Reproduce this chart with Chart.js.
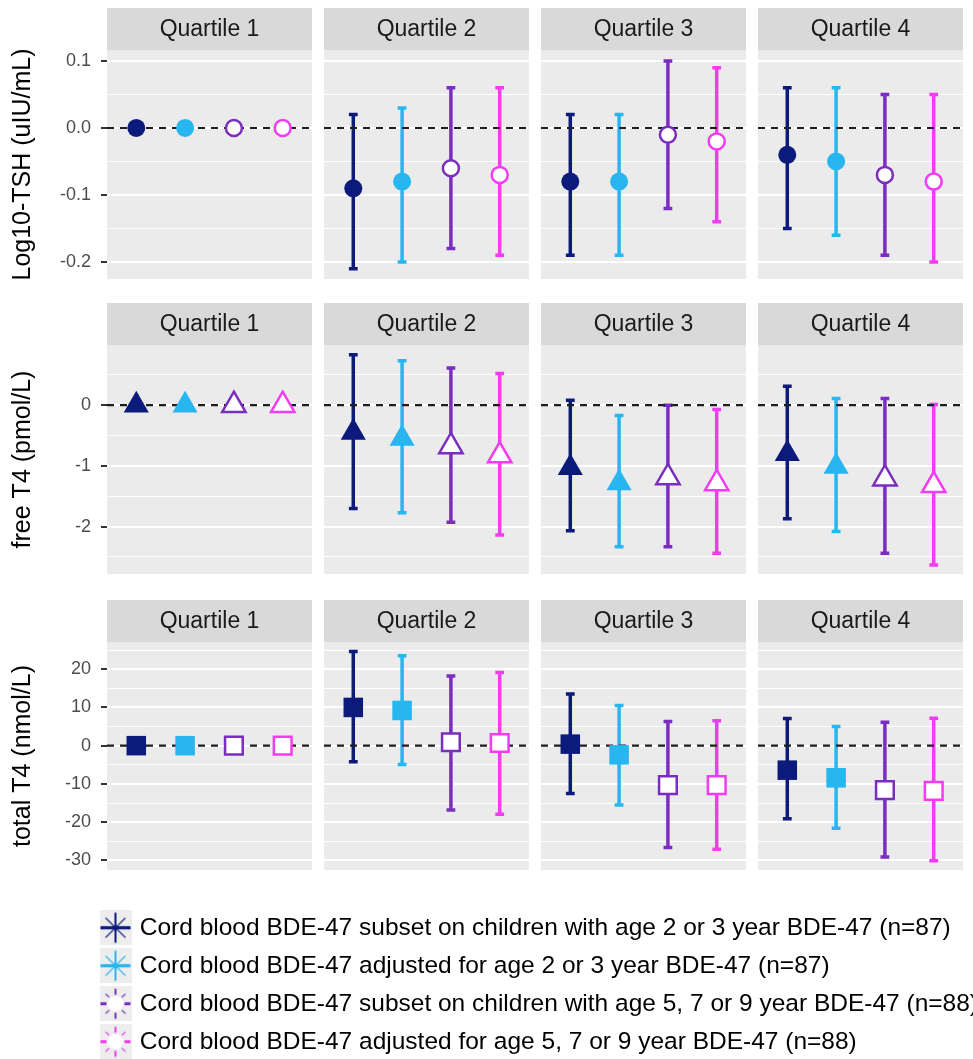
<!DOCTYPE html>
<html>
<head>
<meta charset="utf-8">
<script src="https://cdn.jsdelivr.net/npm/chart.js@4.4.1/dist/chart.umd.min.js"></script>
<style>
  body { margin: 0; background: #fff; overflow: hidden; }
  #wrap { position: relative; width: 973px; height: 1059px; overflow: hidden; }
  #wrap canvas { position: absolute; }
</style>
</head>
<body>
<div id="wrap"></div>
<script>
const quartiles = ['Quartile 1', 'Quartile 2', 'Quartile 3', 'Quartile 4'];
const seriesNames = [
  'Cord blood BDE-47 subset on children with age 2 or 3 year BDE-47 (n=87)',
  'Cord blood BDE-47 adjusted for age 2 or 3 year BDE-47 (n=87)',
  'Cord blood BDE-47 subset on children with age 5, 7 or 9 year BDE-47 (n=88)',
  'Cord blood BDE-47 adjusted for age 5, 7 or 9 year BDE-47 (n=88)'
];
const seriesColors = ['#0c1a7c', '#27b6ef', '#7a2dbf', '#f23cf2'];
const seriesOpen = [false, false, true, true];

// each array: one row per series, one column per quartile (Q1 is the reference)
const tshEst = [
  [0, -0.09, -0.08, -0.04],
  [0, -0.08, -0.08, -0.05],
  [0, -0.06, -0.01, -0.07],
  [0, -0.07, -0.02, -0.08]
];
const tshLow = [
  [null, -0.21, -0.19, -0.15],
  [null, -0.20, -0.19, -0.16],
  [null, -0.18, -0.12, -0.19],
  [null, -0.19, -0.14, -0.20]
];
const tshHigh = [
  [null, 0.02, 0.02, 0.06],
  [null, 0.03, 0.02, 0.06],
  [null, 0.06, 0.10, 0.05],
  [null, 0.06, 0.09, 0.05]
];

const ft4Est = [
  [0, -0.45, -1.03, -0.80],
  [0, -0.55, -1.28, -1.01],
  [0, -0.68, -1.19, -1.21],
  [0, -0.83, -1.29, -1.32]
];
const ft4Low = [
  [null, -1.70, -2.07, -1.87],
  [null, -1.77, -2.33, -2.08],
  [null, -1.93, -2.33, -2.44],
  [null, -2.14, -2.44, -2.63]
];
const ft4High = [
  [null, 0.83, 0.08, 0.31],
  [null, 0.73, -0.17, 0.11],
  [null, 0.61, 0.00, 0.11],
  [null, 0.52, -0.07, 0.01]
];

const tt4Est = [
  [0, 10.0, 0.4, -6.4],
  [0, 9.2, -2.4, -8.4],
  [0, 0.9, -10.3, -11.6],
  [0, 0.7, -10.3, -11.8]
];
const tt4Low = [
  [null, -4.2, -12.5, -19.1],
  [null, -4.9, -15.5, -21.6],
  [null, -16.8, -26.6, -29.1],
  [null, -17.9, -27.1, -30.1]
];
const tt4High = [
  [null, 24.6, 13.5, 7.1],
  [null, 23.5, 10.5, 5.0],
  [null, 18.2, 6.3, 6.1],
  [null, 19.1, 6.5, 7.2]
];

const tshTicks = [0.1, 0.0, -0.1, -0.2];
const tshTickLabels = ['0.1', '0.0', '-0.1', '-0.2'];
const tshMinor = [0.05, -0.05, -0.15];
const ft4Ticks = [0, -1, -2];
const ft4TickLabels = ['0', '-1', '-2'];
const ft4Minor = [0.5, -0.5, -1.5, -2.5];
const tt4Ticks = [20, 10, 0, -10, -20, -30];
const tt4TickLabels = ['20', '10', '0', '-10', '-20', '-30'];
const tt4Minor = [25, 15, 5, -5, -15, -25];

const rows = [
  { title: 'Log10-TSH (uIU/mL)', est: tshEst, low: tshLow, high: tshHigh, min: -0.2254, max: 0.1164,
    ticks: tshTicks, labels: tshTickLabels, minor: tshMinor, shape: 'circle', r: 9, rOpen: 8 },
  { title: 'free T4 (pmol/L)', est: ft4Est, low: ft4Low, high: ft4High, min: -2.78, max: 0.99,
    ticks: ft4Ticks, labels: ft4TickLabels, minor: ft4Minor, shape: 'triangle', r: 14.5, rOpen: 13.5 },
  { title: 'total T4 (nmol/L)', est: tt4Est, low: tt4Low, high: tt4High, min: -32.5, max: 27.1,
    ticks: tt4Ticks, labels: tt4TickLabels, minor: tt4Minor, shape: 'rect', r: 13.8, rOpen: 12.5 }
];

Chart.defaults.font.family = "'Liberation Sans', Arial, sans-serif";
Chart.defaults.animation = false;

const panelLeft = [107, 324, 541, 758];
const panelW = 205;
const rowTop = [8, 303, 600];
const panelH = [229, 229, 228];
const stripH = 42;

// grey panel + strip backgrounds
const panelBg = {
  id: 'panelBg',
  beforeDraw(chart) {
    const {ctx, chartArea: a} = chart;
    ctx.save();
    ctx.fillStyle = '#ebebeb';
    ctx.fillRect(a.left, a.top, a.right - a.left, a.bottom - a.top);
    const t = chart.titleBlock;
    if (t && t.options.display) {
      ctx.fillStyle = '#d9d9d9';
      ctx.fillRect(t.left, t.top, t.width, t.height);
    }
    ctx.restore();
  }
};

// error bars, then the dashed reference line at 0 (points are drawn on top)
const errorBars = {
  id: 'errorBars',
  beforeDatasetsDraw(chart, args, opts) {
    const {ctx, chartArea: a} = chart;
    const x = chart.scales.x, y = chart.scales.y;
    ctx.save();
    ctx.lineWidth = 3.5;
    opts.low.forEach((lo, s) => {
      const hi = opts.high[s];
      if (lo == null || hi == null) return;
      const px = x.getPixelForValue(s + 1);
      const half = x.getPixelForValue(s + 1 + opts.cap / 2) - px;
      const yl = y.getPixelForValue(lo);
      const yh = y.getPixelForValue(hi);
      ctx.strokeStyle = opts.colors[s];
      ctx.beginPath();
      ctx.moveTo(px, yl); ctx.lineTo(px, yh);
      ctx.moveTo(px - half, yl); ctx.lineTo(px + half, yl);
      ctx.moveTo(px - half, yh); ctx.lineTo(px + half, yh);
      ctx.stroke();
    });
    const y0 = y.getPixelForValue(0);
    ctx.setLineDash([7, 6]);
    ctx.strokeStyle = '#1e1e1e';
    ctx.lineWidth = 2.2;
    ctx.beginPath();
    ctx.moveTo(a.left, y0);
    ctx.lineTo(a.right, y0);
    ctx.stroke();
    ctx.restore();
  }
};

const wrap = document.getElementById('wrap');

function addCanvas(left, top, w, h) {
  const c = document.createElement('canvas');
  c.width = w; c.height = h;
  c.style.left = left + 'px';
  c.style.top = top + 'px';
  c.style.width = w + 'px';
  c.style.height = h + 'px';
  wrap.appendChild(c);
  return c;
}

function makePanel(ri, q) {
  const row = rows[ri];
  const first = q === 0;
  const left = first ? 0 : panelLeft[q];
  const w = first ? panelLeft[0] + panelW : panelW;
  const canvas = addCanvas(left, rowTop[ri], w, stripH + panelH[ri]);
  const isMajor = v => row.ticks.some(t => Math.abs(t - v) < 1e-9);

  const datasets = seriesNames.map((name, s) => ({
    label: name,
    data: [{x: s + 1, y: row.est[s][q]}],
    pointStyle: row.shape,
    pointRadius: seriesOpen[s] ? row.rOpen : row.r,
    pointBackgroundColor: seriesOpen[s] ? '#ffffff' : seriesColors[s],
    pointBorderColor: seriesColors[s],
    pointBorderWidth: seriesOpen[s] ? 2.5 : 0,
    showLine: false
  }));

  new Chart(canvas, {
    type: 'scatter',
    data: {datasets},
    options: {
      responsive: false,
      events: [],
      layout: {padding: 0, autoPadding: false},
      scales: {
        x: {type: 'linear', min: 0.4, max: 4.6, display: false},
        y: {
          min: row.min, max: row.max,
          afterBuildTicks: s => { s.ticks = row.ticks.concat(row.minor).map(v => ({value: v})); },
          afterFit: s => {
            s.width = first ? panelLeft[0] : 0;
            s.paddingTop = 0;
            s.paddingBottom = 0;
          },
          border: {display: false},
          grid: {
            color: '#ffffff',
            lineWidth: c => (c.tick && isMajor(c.tick.value)) ? 2 : 1,
            drawTicks: first,
            tickLength: 6,
            tickColor: c => (c.tick && isMajor(c.tick.value)) ? '#333333' : 'rgba(0,0,0,0)'
          },
          ticks: {
            display: first,
            autoSkip: false,
            padding: 10,
            color: '#4d4d4d',
            font: {size: 18},
            callback: v => {
              const i = row.ticks.findIndex(t => Math.abs(t - v) < 1e-9);
              return i < 0 ? '' : row.labels[i];
            }
          },
          title: {
            display: first,
            text: row.title,
            color: '#000000',
            font: {size: 25, lineHeight: 1},
            padding: {top: 11, bottom: 0}
          }
        }
      },
      plugins: {
        legend: {display: false},
        tooltip: {enabled: false},
        title: {
          display: true,
          text: quartiles[q],
          fullSize: false,
          color: '#1a1a1a',
          font: {size: 23, weight: 'normal', lineHeight: 1},
          padding: {top: 10, bottom: 9}
        },
        errorBars: {
          low: row.low.map(a => a[q]),
          high: row.high.map(a => a[q]),
          colors: seriesColors,
          cap: 0.18
        }
      }
    },
    plugins: [panelBg, errorBars]
  });
}

rows.forEach((row, ri) => quartiles.forEach((name, q) => makePanel(ri, q)));

// legend keys, drawn like ggplot's combined point + errorbar glyph
function makeKey(color, open) {
  const c = document.createElement('canvas');
  c.width = 32; c.height = 35;
  const g = c.getContext('2d');
  g.fillStyle = '#ededed';
  g.fillRect(0, 0, 32, 35);
  const cx = 16, cy = 17.5;
  const spokes = [[1, 0, 3.2, 15], [0, 1, 2, 15], [0.707, 0.707, 1.3, 14], [0.707, -0.707, 1.3, 14]];
  g.strokeStyle = color;
  spokes.forEach(([dx, dy, lw, R]) => {
    g.lineWidth = lw;
    g.beginPath();
    if (open) {
      g.moveTo(cx - dx * R, cy - dy * R); g.lineTo(cx - dx * 9, cy - dy * 9);
      g.moveTo(cx + dx * 9, cy + dy * 9); g.lineTo(cx + dx * R, cy + dy * R);
    } else {
      g.moveTo(cx - dx * R, cy - dy * R); g.lineTo(cx + dx * R, cy + dy * R);
    }
    g.stroke();
  });
  if (open) {
    g.fillStyle = '#ffffff';
    g.beginPath();
    g.arc(cx, cy, 7.5, 0, Math.PI * 2);
    g.fill();
  }
  return c;
}

const keys = seriesColors.map((col, s) => makeKey(col, seriesOpen[s]));

new Chart(addCanvas(90, 902, 883, 170), {
  type: 'scatter',
  data: {datasets: seriesNames.map(name => ({label: name, data: []}))},
  options: {
    responsive: false,
    events: [],
    layout: {padding: 0},
    scales: {x: {display: false}, y: {display: false}},
    plugins: {
      tooltip: {enabled: false},
      legend: {
        position: 'left',
        align: 'start',
        maxWidth: 883,
        labels: {
          usePointStyle: true,
          pointStyleWidth: 24,
          padding: 13.5,
          color: '#111111',
          font: {size: 24.5},
          generateLabels: () => seriesNames.map((name, s) => ({
            text: name,
            pointStyle: keys[s],
            fillStyle: seriesColors[s],
            strokeStyle: seriesColors[s],
            lineWidth: 0,
            hidden: false,
            datasetIndex: s
          }))
        }
      }
    }
  }
});
</script>
</body>
</html>
